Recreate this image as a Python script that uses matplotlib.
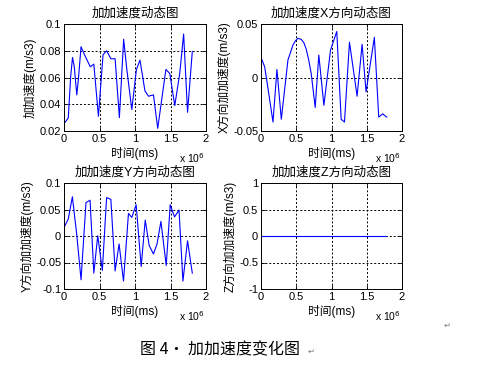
import matplotlib
matplotlib.use("Agg")
import matplotlib.pyplot as plt
from matplotlib.ticker import FuncFormatter

plt.rcParams['font.family'] = ['Liberation Sans', 'Noto Sans CJK SC', 'DejaVu Sans']

# ---- data (time in units of 10^6 ms) ----
t_jerk = [0, 0.06, 0.094, 0.12, 0.145, 0.18, 0.205, 0.24, 0.28, 0.37, 0.42, 0.45,
          0.485, 0.55, 0.6, 0.66, 0.72, 0.78, 0.84, 0.885, 0.955, 1.02, 1.07,
          1.14, 1.19, 1.26, 1.32, 1.435, 1.49, 1.56, 1.63, 1.685, 1.74, 1.807]
jerk = [0.0255, 0.0297, 0.0607, 0.075, 0.068, 0.047, 0.060, 0.083, 0.078, 0.068,
        0.070, 0.052, 0.031, 0.077, 0.080, 0.074, 0.074, 0.030, 0.0886, 0.066,
        0.036, 0.066, 0.073, 0.050, 0.046, 0.047, 0.022, 0.066, 0.063, 0.039,
        0.063, 0.0925, 0.034, 0.0794]

t_x = [0, 0.052, 0.11, 0.17, 0.226, 0.288, 0.382, 0.453, 0.49, 0.524, 0.571,
       0.608, 0.642, 0.675, 0.712, 0.769, 0.82, 0.892, 0.986, 1.075, 1.137,
       1.184, 1.255, 1.363, 1.434, 1.49, 1.608, 1.67, 1.726, 1.783]
jerk_x = [0.0188, 0.010, -0.015, -0.0416, 0.0075, -0.039, 0.0163, 0.0303, 0.0344,
          0.0366, 0.0356, 0.0325, 0.0263, 0.0169, 0.0038, -0.028, 0.021, -0.026,
          0.0256, 0.043, -0.039, -0.0416, 0.033, -0.0175, 0.031, -0.0134, 0.0375,
          -0.037, -0.034, -0.037]

t_y = [0, 0.06, 0.118, 0.18, 0.24, 0.31, 0.367, 0.42, 0.475, 0.54, 0.6, 0.66,
       0.72, 0.776, 0.838, 0.908, 0.955, 1.016, 1.087, 1.144, 1.2, 1.26, 1.31,
       1.365, 1.44, 1.496, 1.557, 1.62, 1.675, 1.74, 1.807]
jerk_y = [0.016, 0.032, 0.074, 0.002, -0.0825, 0.063, 0.0675, -0.070, 0.0006,
          -0.065, 0.0725, 0.069, -0.066, -0.015, -0.085, 0.0425, 0.035, 0.059,
          -0.0575, 0.030, -0.018, -0.034, -0.015, 0.0275, -0.0556, 0.059, 0.036,
          0.049, -0.085, -0.009, -0.070]

t_z = [0, 1.78]
jerk_z = [0, 0]

titles = ['加加速度动态图', '加加速度X方向动态图', '加加速度Y方向动态图', '加加速度Z方向动态图']
ylabels = ['加加速度(m/s3)', 'X方向加加速度(m/s3)', 'Y方向加加速度(m/s3)', 'Z方向加加速度(m/s3)']
xlabel = '时间(ms)'
xticks = [0, 0.5, 1, 1.5, 2]
yticks_list = [[0.02, 0.04, 0.06, 0.08, 0.1],
               [-0.05, 0, 0.05],
               [-0.1, -0.05, 0, 0.05, 0.1],
               [-1, -0.5, 0, 0.5, 1]]
caption = '图 4· 加加速度变化图'

series = [(t_jerk, jerk), (t_x, jerk_x), (t_y, jerk_y), (t_z, jerk_z)]

fig = plt.figure(figsize=(4.8, 3.76), dpi=100)
W, H = 480, 376
boxes = [(64, 24, 206, 131), (261, 24, 402, 131), (64, 183, 206, 289), (261, 183, 402, 289)]

fmt = FuncFormatter(lambda v, p: '%g' % v)
for i, (box, (tx, ty)) in enumerate(zip(boxes, series)):
    x0, y0, x1, y1 = box
    ax = fig.add_axes([x0 / W, 1 - y1 / H, (x1 - x0) / W, (y1 - y0) / H])
    ax.plot(tx, ty, color='#0000ff', lw=0.8)
    ax.set_xlim(0, 2)
    yt = yticks_list[i]
    ax.set_ylim(yt[0], yt[-1])
    ax.set_xticks(xticks)
    ax.set_yticks(yt)
    ax.xaxis.set_major_formatter(fmt)
    ax.yaxis.set_major_formatter(fmt)
    ax.tick_params(direction='in', length=3, width=0.6, labelsize=8, pad=2,
                   top=True, right=True)
    ax.grid(True, color='black', linestyle=(0, (2, 2)), linewidth=0.7)
    for s in ax.spines.values():
        s.set_linewidth(0.7)
    ax.set_title(titles[i], fontsize=9, pad=5)
    ax.set_xlabel(xlabel, fontsize=8.5, labelpad=2)
    ax.set_ylabel(ylabels[i], fontsize=8.5, labelpad=2)
    fig.text((x1 - 1) / W, 1 - (y1 + 27) / H, r'x 10$^6$', fontsize=7.5,
             ha='right', va='center')

fig.text(140 / W, 1 - 350 / H, caption, fontsize=11.5, ha='left', va='center',
         family=['Noto Sans CJK SC', 'DejaVu Sans'])
fig.text(308 / W, 1 - 351 / H, '↵', fontsize=6, color='gray', ha='left', va='center',
         family=['DejaVu Sans'])
fig.text(447 / W, 1 - 325 / H, '↵', fontsize=6, color='gray', ha='center', va='center',
         family=['DejaVu Sans'])

fig.savefig('out.png', dpi=100, facecolor='white')
